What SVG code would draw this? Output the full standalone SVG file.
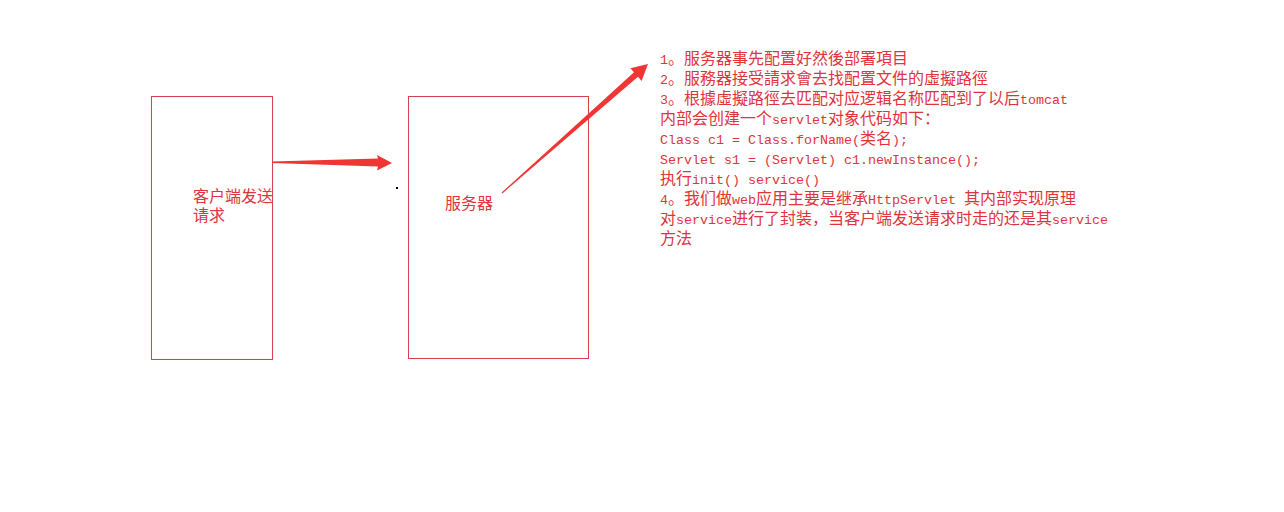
<svg xmlns="http://www.w3.org/2000/svg" width="1284" height="512" viewBox="0 0 1284 512">
<style>
.box{fill:#fff;stroke:#d6404c;stroke-width:1}
.t{font-family:"Noto Sans CJK SC","Liberation Sans",sans-serif;font-size:16px;fill:#e0333b}
.m{font-family:"Liberation Mono",monospace;font-size:13.33px}
.arrow{fill:#f03535}
</style>
<rect width="1284" height="512" fill="#fff"/>
<g id="client">
<rect class="box" x="151.5" y="96.5" width="121" height="263"/>
<text class="t" x="193" y="202">客户端发送<tspan x="193" dy="19">请求</tspan></text>
</g>
<g id="server">
<rect class="box" x="408.5" y="96.5" width="180" height="262"/>
<text class="t" x="445" y="209">服务器</text>
</g>
<g id="connectors">
<polygon class="arrow" points="272,161.5 378,158.5 377,155 392,163 377,170.5 378,166.5 272,163"/>
<polygon class="arrow" points="501.6,192.6 634,72.3 630.4,68.2 648,64 641.6,81 638,76.8 502.4,193.4"/>
</g>
<rect x="396" y="187" width="2" height="2" fill="#000"/>
<g id="notes">
<text class="t" x="660" y="64"><tspan class="m">1</tspan>。服务器事先配置好然後部署項目<tspan x="660" dy="20"><tspan class="m">2</tspan>。服務器接受請求會去找配置文件的虛擬路徑</tspan><tspan x="660" dy="20"><tspan class="m">3</tspan>。根據虛擬路徑去匹配对应逻辑名称匹配到了以后<tspan class="m">tomcat</tspan></tspan><tspan x="660" dy="20">内部会创建一个<tspan class="m">servlet</tspan>对象代码如下：</tspan><tspan x="660" dy="20"><tspan class="m">Class c1 = Class.forName(</tspan>类名<tspan class="m">);</tspan></tspan><tspan x="660" dy="20" class="m">Servlet s1 = (Servlet) c1.newInstance();</tspan><tspan x="660" dy="20">执行<tspan class="m">init() service()</tspan></tspan><tspan x="660" dy="20"><tspan class="m">4</tspan>。我们做<tspan class="m">web</tspan>应用主要是继承<tspan class="m">HttpServlet </tspan>其内部实现原理</tspan><tspan x="660" dy="20">对<tspan class="m">service</tspan>进行了封装，当客户端发送请求时走的还是其<tspan class="m">service</tspan></tspan><tspan x="660" dy="20">方法</tspan></text>
</g>
</svg>
